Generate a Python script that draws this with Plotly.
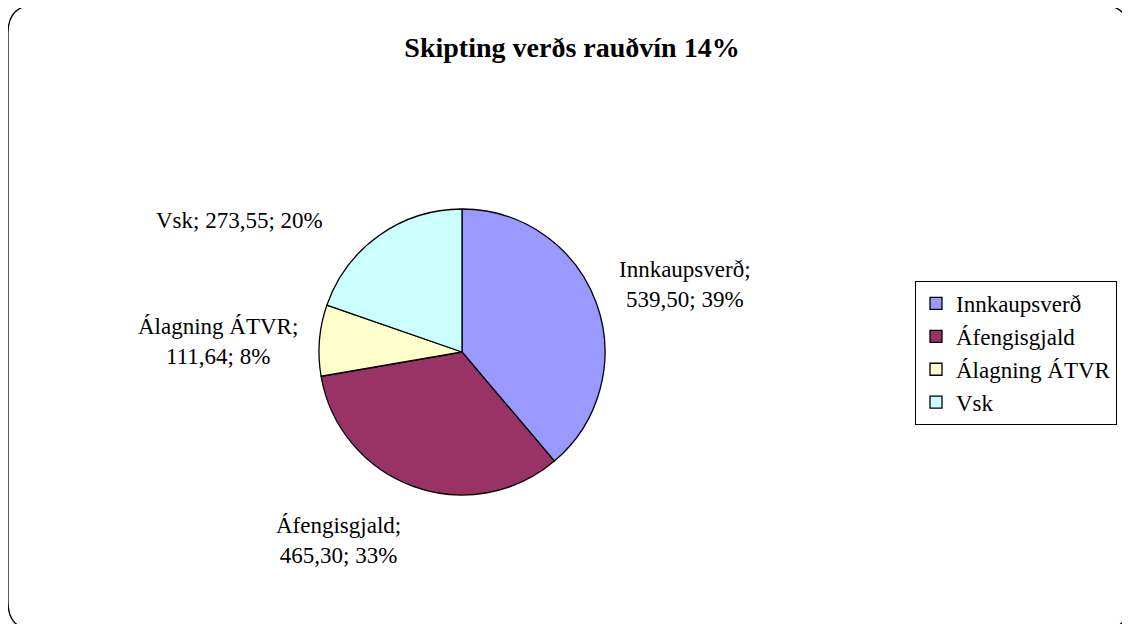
import plotly.graph_objects as go

W, H = 1130, 624
OFF = 8  # page body margin in the browser

title = "Skipting verðs rauðvín 14%"
labels = ["Innkaupsverð", "Áfengisgjald", "Álagning ÁTVR", "Vsk"]
values = [539.50, 465.30, 111.64, 273.55]
percents = [39, 33, 8, 20]
colors = ["#9999FF", "#993366", "#FFFFCC", "#CCFFFF"]

# label text positions in pixels (centre of text block)
label_pos = [(685, 284), (338, 540), (218, 341), (239, 220)]
label_break = [True, True, True, False]

FONT = "Liberation Serif, Times New Roman, serif"


def px(x, y):
    return (x - OFF) / W, 1 - (y - OFF) / H


# pie placement
cx, cy, r = 462, 352, 143
(dx0, dy1), (dx1, dy0) = px(cx - r, cy - r), px(cx + r, cy + r)
fig = go.Figure()
fig.add_trace(go.Pie(
    labels=labels, values=values, sort=False, direction="clockwise", rotation=0,
    marker=dict(colors=colors, line=dict(color="black", width=1.3)),
    textinfo="none", hoverinfo="label+value+percent",
    domain=dict(x=[dx0, dx1], y=[dy0, dy1]),
))

for lab, v, p, pos, br in zip(labels, values, percents, label_pos, label_break):
    val = f"{v:.2f}".replace(".", ",")
    sep = "<br>" if br else " "
    x, y = px(*pos)
    fig.add_annotation(x=x, y=y, xref="paper", yref="paper", showarrow=False,
                       xanchor="center", yanchor="middle",
                       text=f"{lab};{sep}{val}; {p}%", align="center",
                       font=dict(family=FONT, size=23, color="black"))

# rounded outer border
x0, y0, x1, y1, rr = 8, 5, 1129, 630, 28
pts = [
    ("M", x0 + rr, y0), ("L", x1 - rr, y0), ("Q", x1, y0, x1, y0 + rr),
    ("L", x1, y1 - rr), ("Q", x1, y1, x1 - rr, y1), ("L", x0 + rr, y1),
    ("Q", x0, y1, x0, y1 - rr), ("L", x0, y0 + rr), ("Q", x0, y0, x0 + rr, y0),
]
path = ""
for p in pts:
    cmd, coords = p[0], p[1:]
    conv = []
    for i in range(0, len(coords), 2):
        a, b = px(coords[i], coords[i + 1])
        conv.append(f"{a:.5f},{b:.5f}")
    path += cmd + " ".join(conv) + " "
fig.add_shape(type="path", path=path + "Z", xref="paper", yref="paper",
              line=dict(color="black", width=1.3))

lx, ly = px(915, 353)
tx, ty = px(572, 47)
fig.update_layout(
    width=W, height=H,
    margin=dict(l=0, r=0, t=0, b=0),
    paper_bgcolor="white", plot_bgcolor="white",
    title=dict(text="<b>" + title + "</b>", x=tx, xanchor="center",
               y=ty, yanchor="middle",
               font=dict(family=FONT, size=28, color="black")),
    legend=dict(x=lx, y=ly, xanchor="left", yanchor="middle",
                bordercolor="black", borderwidth=1, bgcolor="white",
                font=dict(family=FONT, size=23, color="black")),
)

fig.write_html("out.html")
